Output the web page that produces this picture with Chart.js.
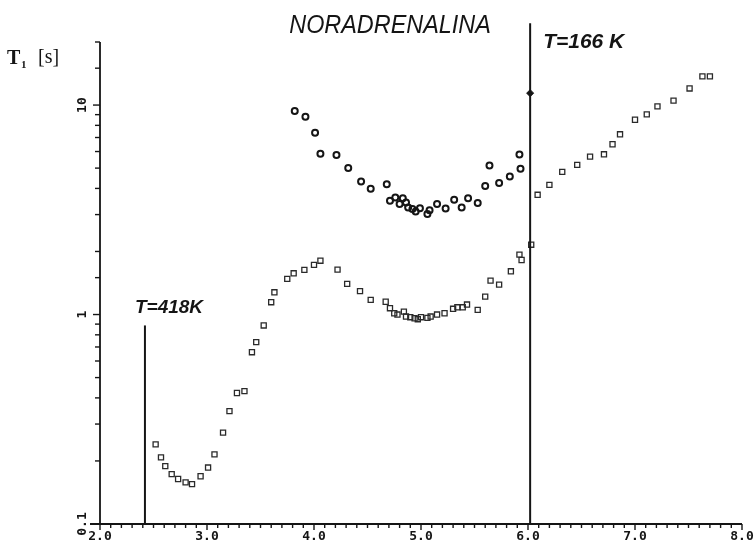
<!DOCTYPE html>
<html>
<head>
<meta charset="utf-8">
<script src="https://cdn.jsdelivr.net/npm/chart.js@4.4.1/dist/chart.umd.min.js"></script>
<style>
  html, body { margin: 0; background: #fff; }
  #wrap { width: 755px; height: 547px; }
</style>
</head>
<body>
<div id="wrap"><canvas id="chart"></canvas></div>
<script>
// T1 relaxation vs 1000/T — noradrenalina

const circleX = [3.82, 3.92, 4.01, 4.06, 4.21, 4.32, 4.44, 4.53, 4.68, 4.71, 4.76, 4.80, 4.83, 4.86, 4.88, 4.92,
  4.95, 4.99, 5.06, 5.08, 5.15, 5.23, 5.31, 5.38, 5.44, 5.53, 5.60, 5.64, 5.73, 5.83, 5.92, 5.93];
const circleY = [9.36, 8.80, 7.38, 5.86, 5.78, 5.00, 4.31, 3.99, 4.19, 3.49, 3.62, 3.37, 3.59, 3.43, 3.24, 3.19,
  3.10, 3.22, 3.02, 3.15, 3.37, 3.21, 3.53, 3.24, 3.59, 3.41, 4.11, 5.14, 4.24, 4.56, 5.80, 4.97];

const squareX = [2.52, 2.57, 2.61, 2.67, 2.73, 2.80, 2.86, 2.94, 3.01, 3.07, 3.15, 3.21, 3.28, 3.35, 3.42, 3.46,
  3.53, 3.60, 3.63, 3.75, 3.81, 3.91, 4.00, 4.06, 4.22, 4.31, 4.43, 4.53, 4.67, 4.71, 4.75, 4.78, 4.84, 4.86,
  4.90, 4.94, 4.97, 5.00, 5.06, 5.09, 5.15, 5.22, 5.30, 5.34, 5.39, 5.43, 5.53, 5.60, 5.65, 5.73, 5.84, 5.92,
  5.94, 6.03, 6.09, 6.20, 6.32, 6.46, 6.58, 6.71, 6.79, 6.86, 7.00, 7.11, 7.21, 7.36, 7.51, 7.63, 7.70];
const squareY = [0.240, 0.208, 0.189, 0.173, 0.164, 0.158, 0.155, 0.169, 0.186, 0.215, 0.273, 0.346, 0.422, 0.431,
  0.661, 0.738, 0.887, 1.145, 1.277, 1.479, 1.573, 1.633, 1.725, 1.807, 1.638, 1.400, 1.294, 1.175, 1.151, 1.072,
  1.014, 1.000, 1.033, 0.978, 0.971, 0.960, 0.950, 0.971, 0.964, 0.978, 1.000, 1.014, 1.065, 1.083, 1.083, 1.116,
  1.053, 1.218, 1.452, 1.389, 1.608, 1.931, 1.821, 2.154, 3.73, 4.16, 4.80, 5.18, 5.67, 5.82, 6.50, 7.25, 8.51,
  9.03, 9.86, 10.5, 12.0, 13.7, 13.7];

// temperature markers (vertical lines)
const refLineX = [2.42, 6.02];
const refLineTop = [0.887, 24.6];
const refLabels = ["T=418K", "T=166 K"];
const markX = [6.02];
const markY = [11.4];

const xLabelValues = [2, 3, 4, 5, 6, 7, 8];
const xLabels = ["2.0", "3.0", "4.0", "5.0", "6.0", "7.0", "8.0"];
const yLabelValues = [0.1, 1, 10];
const yLabels = ["0.1", "1", "10"];

const chartTitle = "NORADRENALINA";
const ink = "#151515";

const toPts = (xs, ys) => xs.map((x, i) => ({ x, y: ys[i] }));

const refLineSets = refLineX.map((x, i) => ({
  type: "line",
  data: [{ x, y: 0.1 }, { x, y: refLineTop[i] }],
  borderColor: ink,
  borderWidth: 2,
  pointRadius: 0,
  showLine: true,
  clip: false,
}));

const decor = {
  id: "decor",
  afterDatasetsDraw(chart) {
    const { ctx, chartArea: a, scales: { x, y } } = chart;
    ctx.save();
    ctx.strokeStyle = ink;
    ctx.fillStyle = ink;

    // axis lines
    ctx.lineWidth = 1.8;
    ctx.beginPath();
    ctx.moveTo(a.left - 10, a.bottom);
    ctx.lineTo(a.right, a.bottom);
    ctx.moveTo(a.left, a.bottom + 1);
    ctx.lineTo(a.left, a.top);
    ctx.stroke();

    // tick marks from the scales' own ticks
    ctx.lineWidth = 1.4;
    x.ticks.forEach(t => {
      const px = x.getPixelForValue(t.value);
      const major = Math.abs(t.value - Math.round(t.value)) < 1e-6;
      ctx.beginPath();
      ctx.moveTo(px, a.bottom);
      ctx.lineTo(px, a.bottom + (major ? 6 : 4));
      ctx.stroke();
    });
    y.ticks.forEach(t => {
      const py = y.getPixelForValue(t.value);
      const lg = Math.log10(t.value);
      const major = Math.abs(lg - Math.round(lg)) < 1e-6;
      ctx.beginPath();
      ctx.moveTo(a.left, py);
      ctx.lineTo(a.left - (major ? 7 : 5), py);
      ctx.stroke();
    });

    // tick labels
    ctx.font = 'bold 13px "DejaVu Sans Mono"';
    ctx.textAlign = "center";
    ctx.textBaseline = "top";
    xLabelValues.forEach((v, i) => ctx.fillText(xLabels[i], x.getPixelForValue(v), a.bottom + 6));
    yLabelValues.forEach((v, i) => {
      ctx.save();
      ctx.translate(a.left - 17, y.getPixelForValue(v));
      ctx.rotate(-Math.PI / 2);
      ctx.textBaseline = "middle";
      ctx.fillText(yLabels[i], 0, 0);
      ctx.restore();
    });

    // title
    ctx.save();
    ctx.translate(390, 33);
    ctx.scale(0.9, 1);
    ctx.font = 'italic 26px "Liberation Sans"';
    ctx.textAlign = "center";
    ctx.textBaseline = "alphabetic";
    ctx.fillText(chartTitle, 0, 0);
    ctx.restore();

    // y axis name
    ctx.textAlign = "left";
    ctx.textBaseline = "alphabetic";
    ctx.font = 'bold 20px "Liberation Serif"';
    ctx.fillText("T", 7, 64);
    ctx.font = 'bold 11px "Liberation Serif"';
    ctx.fillText("1", 21, 68);
    ctx.font = '20px "Liberation Serif"';
    ctx.fillText("[s]", 38, 63);

    // temperature labels
    ctx.font = 'bold italic 19px "Liberation Sans"';
    const p0 = x.getPixelForValue(refLineX[0]);
    ctx.fillText(refLabels[0], p0 - 10, 313);
    ctx.font = 'bold italic 21px "Liberation Sans"';
    const p1 = x.getPixelForValue(refLineX[1]);
    ctx.fillText(refLabels[1], p1 + 13, 48);
    ctx.restore();
  },
};

new Chart(document.getElementById("chart"), {
  type: "scatter",
  data: {
    datasets: [
      ...refLineSets,
      {
        data: toPts(circleX, circleY),
        pointStyle: "circle",
        pointRadius: 3,
        borderColor: ink,
        backgroundColor: "rgba(0,0,0,0)",
        borderWidth: 2,
      },
      {
        data: toPts(squareX, squareY),
        pointStyle: "rect",
        pointRadius: 3.6,
        borderColor: "#2a2a2a",
        backgroundColor: "rgba(0,0,0,0)",
        borderWidth: 1.3,
      },
      {
        data: toPts(markX, markY),
        pointStyle: "rectRot",
        pointRadius: 3.5,
        borderColor: ink,
        backgroundColor: ink,
        borderWidth: 1,
        clip: false,
      },
    ],
  },
  options: {
    responsive: true,
    maintainAspectRatio: false,
    animation: false,
    layout: { padding: { left: 100, right: 13, top: 42, bottom: 23 } },
    plugins: { legend: { display: false }, tooltip: { enabled: false }, title: { display: false } },
    scales: {
      x: {
        type: "linear",
        min: 2,
        max: 8,
        ticks: { display: false, stepSize: 0.1, autoSkip: false },
        grid: { display: false, drawTicks: false },
        border: { display: false },
      },
      y: {
        type: "logarithmic",
        min: 0.1,
        max: 20,
        ticks: { display: false, autoSkip: false },
        grid: { display: false, drawTicks: false },
        border: { display: false },
      },
    },
  },
  plugins: [decor],
});
</script>
</body>
</html>
